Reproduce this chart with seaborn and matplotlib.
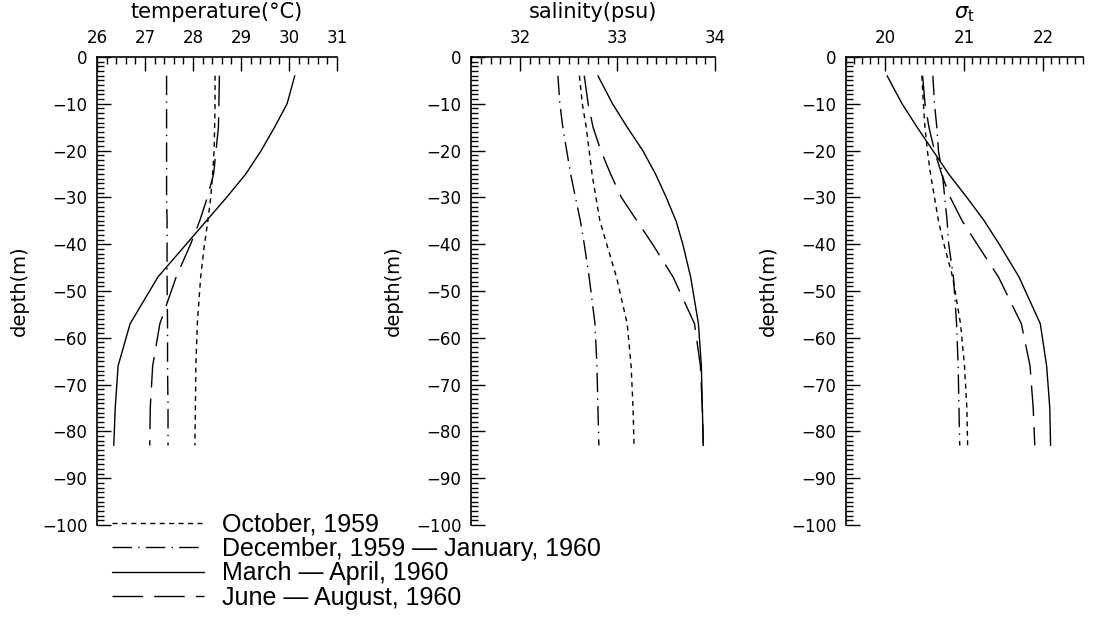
import numpy as np
import pandas as pd
import matplotlib
matplotlib.use("Agg")
import matplotlib.pyplot as plt
import seaborn as sns
from matplotlib.lines import Line2D
from matplotlib.ticker import MultipleLocator

# depth levels (m) shared by all profiles
depth = [-4, -10, -15, -20, -25, -30, -35, -40, -47, -57, -66, -75, -83]

periods = ["October, 1959",
           "December, 1959 \u2014 January, 1960",
           "March \u2014 April, 1960",
           "June \u2014 August, 1960"]

# temperature (degC)
temp_oct = [28.46, 28.46, 28.45, 28.44, 28.41, 28.37, 28.31, 28.24, 28.16, 28.09, 28.06, 28.05, 28.04]
temp_dec = [27.45, 27.45, 27.45, 27.45, 27.45, 27.45, 27.46, 27.46, 27.46, 27.47, 27.47, 27.48, 27.48]
temp_mar = [30.12, 29.96, 29.70, 29.42, 29.10, 28.70, 28.28, 27.86, 27.27, 26.69, 26.44, 26.38, 26.35]
temp_jun = [28.55, 28.54, 28.53, 28.48, 28.43, 28.30, 28.14, 27.95, 27.65, 27.31, 27.16, 27.11, 27.10]

# salinity (psu)
sal_oct = [32.61, 32.64, 32.68, 32.71, 32.74, 32.78, 32.82, 32.89, 32.99, 33.10, 33.14, 33.16, 33.17]
sal_dec = [32.39, 32.41, 32.44, 32.48, 32.52, 32.57, 32.62, 32.66, 32.71, 32.77, 32.79, 32.80, 32.81]
sal_mar = [32.80, 32.95, 33.10, 33.26, 33.39, 33.50, 33.60, 33.67, 33.75, 33.83, 33.86, 33.87, 33.88]
sal_jun = [32.66, 32.70, 32.75, 32.83, 32.93, 33.04, 33.20, 33.36, 33.57, 33.79, 33.85, 33.87, 33.88]

# sigma-t
sig_oct = [20.46, 20.48, 20.50, 20.53, 20.57, 20.62, 20.67, 20.74, 20.85, 20.95, 21.00, 21.03, 21.04]
sig_dec = [20.60, 20.62, 20.65, 20.67, 20.72, 20.75, 20.78, 20.80, 20.86, 20.90, 20.92, 20.93, 20.94]
sig_mar = [20.02, 20.21, 20.40, 20.60, 20.80, 21.03, 21.25, 21.44, 21.69, 21.96, 22.04, 22.08, 22.09]
sig_jun = [20.47, 20.50, 20.55, 20.62, 20.71, 20.82, 20.97, 21.16, 21.43, 21.72, 21.83, 21.87, 21.89]

rows = []
for p, t, s, g in zip(periods,
                      [temp_oct, temp_dec, temp_mar, temp_jun],
                      [sal_oct, sal_dec, sal_mar, sal_jun],
                      [sig_oct, sig_dec, sig_mar, sig_jun]):
    for d, tv, sv, gv in zip(depth, t, s, g):
        rows.append({"period": p, "depth": d, "temp": tv, "sal": sv, "sigma": gv})
df = pd.DataFrame(rows)

dash_map = {periods[0]: (3.6, 3.2),
            periods[1]: (14, 4.5, 1, 4.5),
            periods[2]: "",
            periods[3]: (22, 8)}

sns.set_style("white")
plt.rcParams["font.family"] = ["DejaVu Sans"]
plt.rcParams["text.color"] = "black"
plt.rcParams["axes.labelcolor"] = "black"

fig = plt.figure(figsize=(10.97, 6.39), dpi=100)
bottom, height = 0.1784, 0.7324
axes = [fig.add_axes([0.0884, bottom, 0.2188, height]),
        fig.add_axes([0.4294, bottom, 0.2224, height]),
        fig.add_axes([0.7712, bottom, 0.2160, height])]

panels = [("temp", "temperature(\u00b0C)", (26, 31), 1, 0.2),
          ("sal", "salinity(psu)", (31.5, 34), 1, 0.1),
          ("sigma", r"$\sigma_{\rm t}$", (19.5, 22.5), 1, 0.1)]

for ax, (col, title, xlim, major, minor) in zip(axes, panels):
    sns.lineplot(data=df, x=col, y="depth", style="period", dashes=dash_map,
                 color="black", linewidth=1.0, sort=False, estimator=None,
                 orient="y", legend=False, ax=ax)
    ax.set_xlim(*xlim)
    ax.set_ylim(-100, 0)
    ax.xaxis.tick_top()
    ax.xaxis.set_label_position("top")
    ax.xaxis.set_major_locator(MultipleLocator(major))
    ax.xaxis.set_minor_locator(MultipleLocator(minor))
    ax.yaxis.set_major_locator(MultipleLocator(10))
    ax.yaxis.set_minor_locator(MultipleLocator(1))
    ax.tick_params(which="both", direction="in", width=1, colors="black",
                   top=True, bottom=False, left=True, right=False)
    ax.tick_params(which="major", length=10, labelsize=12, pad=7)
    ax.tick_params(which="minor", length=5)
    for side in ["right", "bottom"]:
        ax.spines[side].set_visible(False)
    for side in ["left", "top"]:
        ax.spines[side].set_color("black")
        ax.spines[side].set_linewidth(1.2)
    ax.set_xlabel(title, fontsize=15, labelpad=8)
    ax.set_ylabel("depth(m)", fontsize=14, labelpad=9)

handles = [Line2D([], [], color="black", linewidth=1.0, dashes=dash_map[p])
           if dash_map[p] != "" else Line2D([], [], color="black", linewidth=1.0)
           for p in periods]
fig.legend(handles, periods, loc="upper left", bbox_to_anchor=(0.102, 0.198),
           frameon=False, handlelength=3.7, handletextpad=0.72, labelspacing=0.02,
           borderpad=0, borderaxespad=0,
           prop={"family": "Liberation Sans", "size": 18})

fig.savefig("out.png", dpi=100)
